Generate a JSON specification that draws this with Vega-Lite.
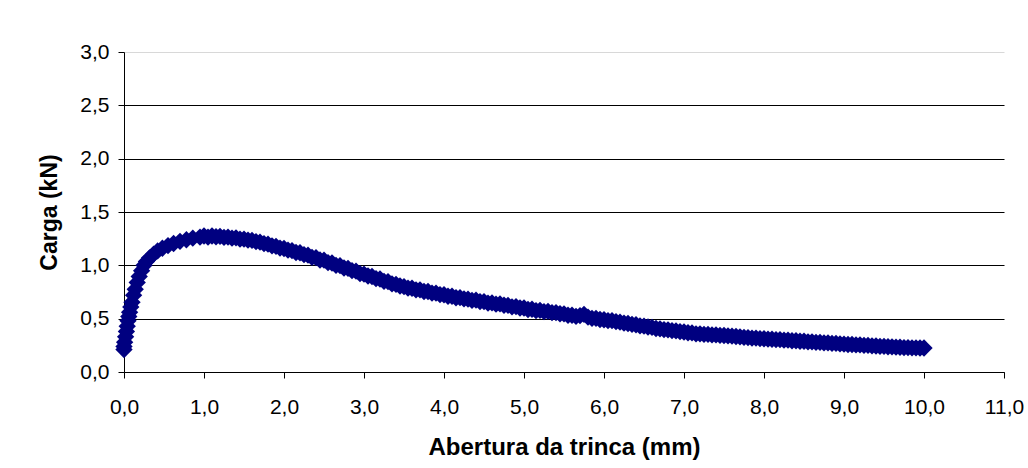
{
  "$schema": "https://vega.github.io/schema/vega-lite/v6.json",
  "autosize": {"type": "none"},
  "padding": {"left": 124, "top": 52, "right": 24, "bottom": 96},
  "width": 880,
  "height": 320,
  "background": "white",
  "config": {
    "font": "Liberation Sans",
    "view": {"stroke": null},
    "axis": {
      "labelFont": "Liberation Sans",
      "titleFont": "Liberation Sans",
      "labelColor": "#000",
      "titleColor": "#000",
      "domainColor": "#000",
      "tickColor": "#000",
      "labelFontSize": 21,
      "titleFontWeight": "bold",
      "tickSize": 6
    }
  },
  "data": {
    "values": [
      {"x": 0, "y": 0.21}, {"x": 0, "y": 0.24}, {"x": 0.008, "y": 0.28}, {"x": 0.02, "y": 0.33},
      {"x": 0.03, "y": 0.38}, {"x": 0.04, "y": 0.43}, {"x": 0.05, "y": 0.48}, {"x": 0.06, "y": 0.52},
      {"x": 0.07, "y": 0.56}, {"x": 0.085, "y": 0.61}, {"x": 0.1, "y": 0.655}, {"x": 0.12, "y": 0.72},
      {"x": 0.14, "y": 0.775}, {"x": 0.165, "y": 0.84}, {"x": 0.19, "y": 0.895}, {"x": 0.22, "y": 0.95},
      {"x": 0.25, "y": 1.0}, {"x": 0.28, "y": 1.035}, {"x": 0.32, "y": 1.07}, {"x": 0.37, "y": 1.105},
      {"x": 0.42, "y": 1.135}, {"x": 0.48, "y": 1.16}, {"x": 0.55, "y": 1.185}, {"x": 0.62, "y": 1.205},
      {"x": 0.7, "y": 1.225}, {"x": 0.78, "y": 1.24}, {"x": 0.86, "y": 1.255}, {"x": 0.95, "y": 1.265},
      {"x": 1.0, "y": 1.275}, {"x": 1.05, "y": 1.265}, {"x": 1.1, "y": 1.275}, {"x": 1.15, "y": 1.268},
      {"x": 1.2, "y": 1.272}, {"x": 1.25, "y": 1.262}, {"x": 1.3, "y": 1.265}, {"x": 1.35, "y": 1.255},
      {"x": 1.4, "y": 1.258}, {"x": 1.45, "y": 1.245}, {"x": 1.5, "y": 1.246}, {"x": 1.55, "y": 1.236},
      {"x": 1.6, "y": 1.234}, {"x": 1.65, "y": 1.222}, {"x": 1.7, "y": 1.218}, {"x": 1.75, "y": 1.203},
      {"x": 1.8, "y": 1.198}, {"x": 1.85, "y": 1.183}, {"x": 1.9, "y": 1.178}, {"x": 1.95, "y": 1.162},
      {"x": 2.0, "y": 1.158}, {"x": 2.05, "y": 1.142}, {"x": 2.1, "y": 1.138}, {"x": 2.15, "y": 1.12},
      {"x": 2.2, "y": 1.118}, {"x": 2.25, "y": 1.1}, {"x": 2.3, "y": 1.095}, {"x": 2.35, "y": 1.075},
      {"x": 2.4, "y": 1.072}, {"x": 2.45, "y": 1.05}, {"x": 2.5, "y": 1.048}, {"x": 2.55, "y": 1.025},
      {"x": 2.6, "y": 1.022}, {"x": 2.65, "y": 1.0}, {"x": 2.7, "y": 0.997}, {"x": 2.75, "y": 0.975},
      {"x": 2.8, "y": 0.972}, {"x": 2.85, "y": 0.95}, {"x": 2.9, "y": 0.945}, {"x": 2.95, "y": 0.922},
      {"x": 3.0, "y": 0.918}, {"x": 3.05, "y": 0.9}, {"x": 3.1, "y": 0.895}, {"x": 3.15, "y": 0.875},
      {"x": 3.2, "y": 0.872}, {"x": 3.25, "y": 0.85}, {"x": 3.3, "y": 0.848}, {"x": 3.35, "y": 0.826},
      {"x": 3.4, "y": 0.822}, {"x": 3.45, "y": 0.806}, {"x": 3.5, "y": 0.8}, {"x": 3.55, "y": 0.786},
      {"x": 3.6, "y": 0.785}, {"x": 3.65, "y": 0.77}, {"x": 3.7, "y": 0.77}, {"x": 3.75, "y": 0.755},
      {"x": 3.8, "y": 0.755}, {"x": 3.85, "y": 0.74}, {"x": 3.9, "y": 0.74}, {"x": 3.95, "y": 0.726},
      {"x": 4.0, "y": 0.724}, {"x": 4.05, "y": 0.71}, {"x": 4.1, "y": 0.71}, {"x": 4.15, "y": 0.696},
      {"x": 4.2, "y": 0.697}, {"x": 4.25, "y": 0.685}, {"x": 4.3, "y": 0.684}, {"x": 4.35, "y": 0.671},
      {"x": 4.4, "y": 0.673}, {"x": 4.45, "y": 0.66}, {"x": 4.5, "y": 0.66}, {"x": 4.55, "y": 0.646},
      {"x": 4.6, "y": 0.648}, {"x": 4.65, "y": 0.636}, {"x": 4.7, "y": 0.638}, {"x": 4.75, "y": 0.626},
      {"x": 4.8, "y": 0.624}, {"x": 4.85, "y": 0.611}, {"x": 4.9, "y": 0.613}, {"x": 4.95, "y": 0.6},
      {"x": 5.0, "y": 0.6}, {"x": 5.05, "y": 0.586}, {"x": 5.1, "y": 0.588}, {"x": 5.15, "y": 0.576},
      {"x": 5.2, "y": 0.578}, {"x": 5.25, "y": 0.566}, {"x": 5.3, "y": 0.568}, {"x": 5.35, "y": 0.556},
      {"x": 5.4, "y": 0.557}, {"x": 5.45, "y": 0.546}, {"x": 5.5, "y": 0.545}, {"x": 5.55, "y": 0.532},
      {"x": 5.6, "y": 0.532}, {"x": 5.65, "y": 0.522}, {"x": 5.7, "y": 0.528}, {"x": 5.75, "y": 0.54},
      {"x": 5.8, "y": 0.515}, {"x": 5.85, "y": 0.503}, {"x": 5.9, "y": 0.502}, {"x": 5.95, "y": 0.492},
      {"x": 6.0, "y": 0.49}, {"x": 6.05, "y": 0.482}, {"x": 6.1, "y": 0.481}, {"x": 6.15, "y": 0.472},
      {"x": 6.2, "y": 0.468}, {"x": 6.25, "y": 0.458}, {"x": 6.3, "y": 0.455}, {"x": 6.35, "y": 0.447},
      {"x": 6.4, "y": 0.443}, {"x": 6.45, "y": 0.432}, {"x": 6.5, "y": 0.43}, {"x": 6.55, "y": 0.422},
      {"x": 6.6, "y": 0.418}, {"x": 6.65, "y": 0.408}, {"x": 6.7, "y": 0.405}, {"x": 6.75, "y": 0.398},
      {"x": 6.8, "y": 0.395}, {"x": 6.85, "y": 0.388}, {"x": 6.9, "y": 0.385}, {"x": 6.95, "y": 0.378},
      {"x": 7.0, "y": 0.375}, {"x": 7.05, "y": 0.368}, {"x": 7.1, "y": 0.366}, {"x": 7.15, "y": 0.358},
      {"x": 7.2, "y": 0.358}, {"x": 7.25, "y": 0.353}, {"x": 7.3, "y": 0.352}, {"x": 7.35, "y": 0.348},
      {"x": 7.4, "y": 0.348}, {"x": 7.45, "y": 0.343}, {"x": 7.5, "y": 0.342}, {"x": 7.55, "y": 0.338},
      {"x": 7.6, "y": 0.337}, {"x": 7.65, "y": 0.333}, {"x": 7.7, "y": 0.33}, {"x": 7.75, "y": 0.324},
      {"x": 7.8, "y": 0.323}, {"x": 7.85, "y": 0.318}, {"x": 7.9, "y": 0.318}, {"x": 7.95, "y": 0.313},
      {"x": 8.0, "y": 0.312}, {"x": 8.05, "y": 0.308}, {"x": 8.1, "y": 0.307}, {"x": 8.15, "y": 0.303},
      {"x": 8.2, "y": 0.303}, {"x": 8.25, "y": 0.298}, {"x": 8.3, "y": 0.298}, {"x": 8.35, "y": 0.293},
      {"x": 8.4, "y": 0.293}, {"x": 8.45, "y": 0.288}, {"x": 8.5, "y": 0.288}, {"x": 8.55, "y": 0.283},
      {"x": 8.6, "y": 0.283}, {"x": 8.65, "y": 0.278}, {"x": 8.7, "y": 0.278}, {"x": 8.75, "y": 0.273},
      {"x": 8.8, "y": 0.273}, {"x": 8.85, "y": 0.268}, {"x": 8.9, "y": 0.268}, {"x": 8.95, "y": 0.263},
      {"x": 9.0, "y": 0.262}, {"x": 9.05, "y": 0.258}, {"x": 9.1, "y": 0.258}, {"x": 9.15, "y": 0.254},
      {"x": 9.2, "y": 0.254}, {"x": 9.25, "y": 0.25}, {"x": 9.3, "y": 0.249}, {"x": 9.35, "y": 0.245},
      {"x": 9.4, "y": 0.244}, {"x": 9.45, "y": 0.24}, {"x": 9.5, "y": 0.24}, {"x": 9.55, "y": 0.237},
      {"x": 9.6, "y": 0.236}, {"x": 9.65, "y": 0.233}, {"x": 9.7, "y": 0.232}, {"x": 9.75, "y": 0.229},
      {"x": 9.8, "y": 0.229}, {"x": 9.85, "y": 0.227}, {"x": 9.9, "y": 0.226}, {"x": 9.95, "y": 0.225},
      {"x": 10.0, "y": 0.225}
    ]
  },
  "mark": {"type": "point", "shape": "diamond", "filled": true, "size": 300, "color": "#000080", "opacity": 1, "strokeWidth": 0, "clip": false},
  "encoding": {
    "x": {
      "field": "x",
      "type": "quantitative",
      "scale": {"domain": [0, 11], "nice": false, "zero": false},
      "axis": {
        "title": "Abertura da trinca (mm)",
        "titleFontSize": 24,
        "values": [0, 1, 2, 3, 4, 5, 6, 7, 8, 9, 10, 11],
        "labelExpr": "replace(format(datum.value, '.1f'), '.', ',')",
        "grid": false,
        "labelPadding": 18,
        "titlePadding": 18,
        "labelFlush": false,
        "labelOverlap": false
      }
    },
    "y": {
      "field": "y",
      "type": "quantitative",
      "scale": {"domain": [0, 3], "nice": false},
      "axis": {
        "title": "Carga (kN)",
        "titleFontSize": 23,
        "values": [0, 0.5, 1, 1.5, 2, 2.5, 3],
        "labelExpr": "replace(format(datum.value, '.1f'), '.', ',')",
        "grid": true,
        "gridColor": {"condition": {"test": "datum.value === 3", "value": "#d8d8d8"}, "value": "#000"},
        "gridWidth": 1,
        "labelPadding": 9,
        "titlePadding": 18,
        "labelFlush": false,
        "labelOverlap": false
      }
    }
  }
}
